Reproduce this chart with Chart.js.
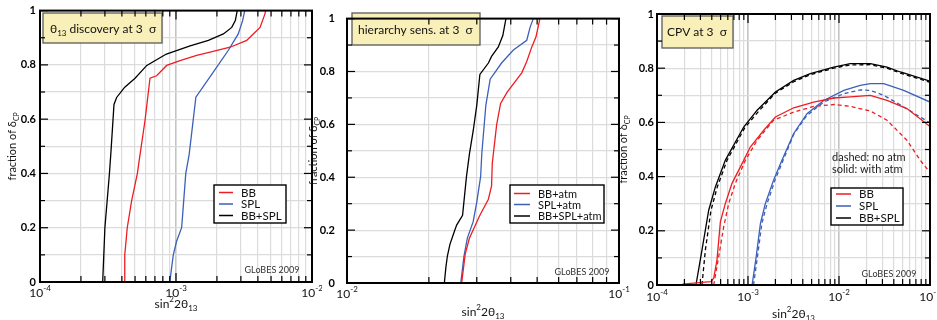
<!DOCTYPE html>
<html>
<head>
<meta charset="utf-8">
<script src="https://cdn.jsdelivr.net/npm/chart.js@4.4.1/dist/chart.umd.min.js"></script>
<style>
  html, body { margin: 0; padding: 0; background: #fff; }
  #wrap { position: relative; width: 937px; height: 320px; overflow: hidden; background: #fff; }
  canvas { position: absolute; top: 0; }
</style>
</head>
<body>
<div id="wrap">
  <canvas id="c1" width="322" height="320" style="left:0px;width:322px;height:320px"></canvas>
  <canvas id="c2" width="325" height="320" style="left:306px;width:325px;height:320px"></canvas>
  <canvas id="c3" width="325" height="320" style="left:612px;width:325px;height:320px"></canvas>
</div>
<script>
// ---------------------------------------------------------------
// Fraction of delta_CP versus sin^2(2 theta13)
// ---------------------------------------------------------------

// y axis: grid every 0.1, labels every 0.2
const fracGrid = [0, 0.1, 0.2, 0.3, 0.4, 0.5, 0.6, 0.7, 0.8, 0.9, 1];
const fracLabels = ['0', '', '0.2', '', '0.4', '', '0.6', '', '0.8', '', '1'];

// x axis decades (exponents of ten) per panel
const discDecades = [-4, -3, -2];
const hierDecades = [-2, -1];
const cpvDecades = [-4, -3, -2, -1];

// Panel 1: theta13 discovery at 3 sigma
const discBB_s22 = [4.15e-4, 4.2e-4, 4.38e-4, 4.72e-4, 5.2e-4, 5.37e-4, 5.92e-4, 6.44e-4, 7.2e-4, 8.54e-4, 1.07e-3, 1.42e-3, 1.78e-3, 2.5e-3, 3.31e-3, 3.7e-3, 4.15e-3, 4.51e-3, 4.56e-3];
const discBB_frac = [0, 0.1, 0.2, 0.3, 0.4, 0.45, 0.596, 0.751, 0.76, 0.798, 0.816, 0.835, 0.847, 0.865, 0.89, 0.914, 0.938, 0.988, 1];
const discSPL_s22 = [9.0e-4, 9.55e-4, 1.01e-3, 1.1e-3, 1.12e-3, 1.18e-3, 1.25e-3, 1.4e-3, 1.88e-3, 2.42e-3, 2.87e-3, 3.09e-3, 3.2e-3];
const discSPL_frac = [0, 0.1, 0.15, 0.2, 0.25, 0.4, 0.47, 0.681, 0.773, 0.853, 0.914, 0.963, 1];
const discBoth_s22 = [2.89e-4, 3.0e-4, 3.24e-4, 3.33e-4, 3.5e-4, 3.66e-4, 4.2e-4, 5.0e-4, 6.1e-4, 8.5e-4, 1.27e-3, 1.73e-3, 2.23e-3, 2.57e-3, 2.73e-3, 2.82e-3];
const discBoth_frac = [0, 0.2, 0.4, 0.485, 0.654, 0.68, 0.718, 0.751, 0.798, 0.84, 0.87, 0.89, 0.914, 0.938, 0.963, 1];

// Panel 2: mass hierarchy sensitivity at 3 sigma (with atmospheric data)
const hierBB_s22 = [2.64e-2, 2.72e-2, 2.82e-2, 3.08e-2, 3.31e-2, 3.4e-2, 3.42e-2, 3.55e-2, 3.67e-2, 3.88e-2, 4.39e-2, 4.58e-2, 4.78e-2, 4.95e-2, 5.12e-2];
const hierBB_frac = [0, 0.109, 0.17, 0.256, 0.317, 0.367, 0.452, 0.599, 0.679, 0.722, 0.795, 0.838, 0.893, 0.93, 1];
const hierSPL_s22 = [2.62e-2, 2.69e-2, 2.77e-2, 2.91e-2, 3.0e-2, 3.1e-2, 3.13e-2, 3.24e-2, 3.36e-2, 3.7e-2, 4.09e-2, 4.58e-2, 4.71e-2, 4.84e-2];
const hierSPL_frac = [0, 0.1, 0.17, 0.232, 0.306, 0.403, 0.489, 0.673, 0.771, 0.832, 0.881, 0.918, 0.967, 1];
const hierBoth_s22 = [2.28e-2, 2.31e-2, 2.34e-2, 2.39e-2, 2.47e-2, 2.53e-2, 2.66e-2, 2.69e-2, 2.75e-2, 2.82e-2, 2.91e-2, 3.0e-2, 3.08e-2, 3.31e-2, 3.4e-2, 3.6e-2, 3.74e-2, 3.84e-2];
const hierBoth_frac = [0, 0.06, 0.103, 0.146, 0.189, 0.219, 0.256, 0.306, 0.403, 0.489, 0.575, 0.673, 0.789, 0.832, 0.857, 0.893, 0.936, 1];

// Panel 3: CP violation at 3 sigma, with (solid) and without (dashed) atmospheric data
const cpvBB_s22 = [1.9e-4, 3.9e-4, 4.2e-4, 4.56e-4, 4.97e-4, 5.63e-4, 6.67e-4, 8.97e-4, 1.06e-3, 1.49e-3, 2.0e-3, 3.18e-3, 5.27e-3, 8.75e-3, 1.33e-2, 2.21e-2, 3.37e-2, 5.58e-2, 1e-1];
const cpvBB_frac = [0.003, 0.012, 0.025, 0.092, 0.233, 0.3, 0.375, 0.46, 0.509, 0.571, 0.62, 0.654, 0.675, 0.69, 0.694, 0.7, 0.681, 0.651, 0.585];
const cpvBBnoAtm_s22 = [4.2e-4, 4.76e-4, 5.41e-4, 6.13e-4, 7.26e-4, 9.35e-4, 1.26e-3, 1.91e-3, 3.18e-3, 5.27e-3, 8.75e-3, 1.33e-2, 2.21e-2, 3.37e-2, 5.58e-2, 7.83e-2, 1e-1];
const cpvBBnoAtm_frac = [0, 0.104, 0.215, 0.3, 0.375, 0.46, 0.534, 0.608, 0.638, 0.659, 0.666, 0.659, 0.642, 0.608, 0.534, 0.46, 0.415];
const cpvSPL_s22 = [1.11e-3, 1.23e-3, 1.37e-3, 1.55e-3, 1.91e-3, 2.36e-3, 3.18e-3, 4.45e-3, 6.79e-3, 1.13e-2, 1.71e-2, 2.21e-2, 3.1e-2, 5.14e-2, 1e-1];
const cpvSPL_frac = [0, 0.104, 0.227, 0.3, 0.387, 0.46, 0.559, 0.632, 0.681, 0.718, 0.737, 0.743, 0.743, 0.718, 0.675];
const cpvSPLnoAtm_s22 = [1.15e-3, 1.27e-3, 1.42e-3, 1.62e-3, 1.98e-3, 2.43e-3, 3.18e-3, 4.45e-3, 6.79e-3, 1.13e-2, 1.71e-2, 2.21e-2, 3.1e-2, 5.14e-2, 1e-1];
const cpvSPLnoAtm_frac = [0, 0.104, 0.227, 0.3, 0.387, 0.46, 0.556, 0.626, 0.675, 0.706, 0.72, 0.718, 0.7, 0.657, 0.598];
const cpvBoth_s22 = [2.68e-4, 3.12e-4, 3.7e-4, 4.38e-4, 5.63e-4, 8.97e-4, 1.26e-3, 2.0e-3, 3.18e-3, 4.84e-3, 8.75e-3, 1.33e-2, 2.21e-2, 3.37e-2, 4.72e-2, 1e-1];
const cpvBoth_frac = [0, 0.129, 0.276, 0.362, 0.46, 0.583, 0.645, 0.712, 0.755, 0.78, 0.804, 0.817, 0.817, 0.804, 0.786, 0.752];
const cpvBothNoAtm_s22 = [3.12e-4, 3.4e-4, 3.92e-4, 4.6e-4, 5.88e-4, 9.2e-4, 1.3e-3, 2.0e-3, 3.18e-3, 4.84e-3, 8.75e-3, 1.33e-2, 2.21e-2, 3.37e-2, 4.72e-2, 1e-1];
const cpvBothNoAtm_frac = [0, 0.129, 0.276, 0.362, 0.46, 0.58, 0.64, 0.708, 0.75, 0.776, 0.8, 0.812, 0.813, 0.8, 0.782, 0.748];

// ---------------------------------------------------------------
const FONT = 'Lato, "Open Sans", "DejaVu Sans", sans-serif';
const RED = '#ee1d23';
const BLUE = '#3c5fba';
const BLACK = '#000000';

function fontOf(p) { return (p.w || 'normal') + ' ' + p.s + 'px ' + FONT; }

function richWidth(ctx, parts) {
  let w = 0;
  for (const p of parts) { ctx.font = fontOf(p); w += ctx.measureText(p.t).width; }
  return w;
}

// draws a run of text pieces (with super/subscripts) on one baseline
function drawRich(ctx, parts, x, y, align, color) {
  const w = richWidth(ctx, parts);
  let cx = align === 'center' ? x - w / 2 : (align === 'right' ? x - w : x);
  ctx.textAlign = 'left';
  ctx.textBaseline = 'alphabetic';
  ctx.fillStyle = color || '#000';
  for (const p of parts) {
    ctx.font = fontOf(p);
    ctx.fillText(p.t, cx, y + (p.dy || 0));
    cx += ctx.measureText(p.t).width;
  }
}

function logGrid(decades) {
  const vals = [];
  for (let i = 0; i < decades.length - 1; i++) {
    const base = Math.pow(10, decades[i]);
    for (let m = 1; m < 10; m++) vals.push(m * base);
  }
  vals.push(Math.pow(10, decades[decades.length - 1]));
  return vals;
}

function isDecade(v) {
  const l = Math.log10(v);
  return Math.abs(l - Math.round(l)) < 1e-6;
}

function line(ctx, x1, y1, x2, y2) {
  ctx.beginPath(); ctx.moveTo(x1, y1); ctx.lineTo(x2, y2); ctx.stroke();
}

// decorations: title box, legend, frame with inward ticks, axis labels
function decorPlugin(p) {
  return {
    id: 'decor_' + p.id,
    afterDraw(chart) {
      const ctx = chart.ctx;
      const a = chart.chartArea;
      const xs = chart.scales.x, ys = chart.scales.y;
      const ox = p.left;
      ctx.save();

      // title box
      const b = p.box;
      ctx.fillStyle = '#f9efb9';
      ctx.fillRect(b.x0 - ox, b.y0, b.x1 - b.x0, b.y1 - b.y0);
      ctx.strokeStyle = '#5a5a5a';
      ctx.lineWidth = 1.3;
      ctx.strokeRect(b.x0 - ox, b.y0, b.x1 - b.x0, b.y1 - b.y0);
      drawRich(ctx, b.parts, b.tx - ox, b.ty, 'left', '#111');

      // legend
      const L = p.legend;
      ctx.fillStyle = '#fff';
      ctx.fillRect(L.x0 - ox, L.y0, L.x1 - L.x0, L.y1 - L.y0);
      ctx.strokeStyle = '#000';
      ctx.lineWidth = 1.4;
      ctx.strokeRect(L.x0 - ox, L.y0, L.x1 - L.x0, L.y1 - L.y0);
      L.rows.forEach((r, i) => {
        const ds = chart.data.datasets[r];
        const yy = L.ys[i];
        ctx.strokeStyle = ds.borderColor;
        ctx.lineWidth = 1.5;
        ctx.setLineDash([]);
        line(ctx, L.lx0 - ox, yy, L.lx1 - ox, yy);
        ctx.font = fontOf({ s: L.s });
        ctx.fillStyle = '#111';
        ctx.textAlign = 'left';
        ctx.textBaseline = 'middle';
        ctx.fillText(ds.label, L.tx - ox, yy + 0.5);
      });

      // notes
      (p.notes || []).forEach(n => {
        ctx.font = fontOf({ s: n.s });
        ctx.fillStyle = n.c || '#222';
        ctx.textAlign = n.align || 'left';
        ctx.textBaseline = 'middle';
        ctx.fillText(n.t, n.x - ox, n.y);
      });

      // inward ticks on all four sides
      ctx.strokeStyle = '#000';
      ctx.lineWidth = 1.2;
      ys.ticks.forEach((t, i) => {
        const py = ys.getPixelForValue(t.value);
        const len = (i % 2 === 0) ? 8 : 5;
        line(ctx, a.left, py, a.left + len, py);
        line(ctx, a.right, py, a.right - len, py);
      });
      xs.ticks.forEach(t => {
        const px = xs.getPixelForValue(t.value);
        const len = isDecade(t.value) ? 9 : 6;
        line(ctx, px, a.bottom, px, a.bottom - len);
        line(ctx, px, a.top, px, a.top + len);
      });

      // frame
      ctx.lineWidth = 2;
      ctx.strokeRect(a.left, a.top, a.right - a.left, a.bottom - a.top);

      // x tick labels 10^n
      p.decades.forEach(e => {
        const px = xs.getPixelForValue(Math.pow(10, e));
        drawRich(ctx, [{ t: '10', s: 12 }, { t: String(e), s: 8, dy: -6 }], px, a.bottom + p.xLabDy, 'center', '#111');
      });

      // x axis title
      drawRich(ctx, [
        { t: 'sin', s: 12 }, { t: '2', s: 8, dy: -6 }, { t: '2θ', s: 12 }, { t: '13', s: 8, dy: 3 }
      ], (a.left + a.right) / 2, p.xTitleY, 'center', '#111');

      // y axis title (rotated)
      ctx.save();
      ctx.translate(p.yTitleX - ox, (a.top + a.bottom) / 2);
      ctx.rotate(-Math.PI / 2);
      drawRich(ctx, [{ t: 'fraction of δ', s: 11 }, { t: 'CP', s: 7, dy: 3 }], 0, 0, 'center', '#111');
      ctx.restore();

      // program tag
      ctx.font = fontOf({ s: 9 });
      ctx.fillStyle = '#333';
      ctx.textAlign = 'center';
      ctx.textBaseline = 'middle';
      ctx.fillText('GLoBES 2009', p.tag.x - ox, p.tag.y);

      ctx.restore();
    }
  };
}

function series(label, xs, ys, color, dashed) {
  return {
    label: label,
    data: xs.map((v, i) => ({ x: v, y: ys[i] })),
    borderColor: color,
    borderWidth: 1.3,
    borderDash: dashed ? [4, 3] : [],
    pointRadius: 0,
    tension: 0,
    fill: false
  };
}

function buildPanel(p) {
  const grid = logGrid(p.decades);
  const last = p.decades[p.decades.length - 1];
  return new Chart(document.getElementById(p.id), {
    type: 'line',
    data: { datasets: p.datasets },
    options: {
      responsive: false,
      animation: false,
      devicePixelRatio: 1,
      layout: { padding: p.pad },
      plugins: { legend: { display: false }, tooltip: { enabled: false } },
      scales: {
        x: {
          type: 'logarithmic',
          min: Math.pow(10, p.decades[0]),
          max: Math.pow(10, last),
          afterBuildTicks: s => { s.ticks = grid.map(v => ({ value: v })); },
          afterFit: s => { s.height = p.xAxisH; },
          ticks: { display: false },
          grid: {
            drawTicks: false,
            color: c => (c.tick && isDecade(c.tick.value)) ? '#c4c4c4' : '#dcdcdc',
            lineWidth: c => (c.tick && isDecade(c.tick.value)) ? 1.6 : 1.2
          },
          border: { display: false }
        },
        y: {
          min: 0,
          max: 1,
          afterBuildTicks: s => { s.ticks = fracGrid.map(v => ({ value: v })); },
          afterFit: s => { s.width = p.yAxisW; },
          ticks: {
            autoSkip: false,
            padding: p.yLabPad,
            color: '#000',
            font: { family: FONT, size: 11, weight: 'bold' },
            callback: (v, i) => fracLabels[i]
          },
          grid: { drawTicks: false, color: '#dcdcdc', lineWidth: 1.2 },
          border: { display: false }
        }
      }
    },
    plugins: [decorPlugin(p)]
  });
}

// Panel 1
buildPanel({
  id: 'c1', left: 0, decades: discDecades,
  pad: { left: 0, right: 10, top: 10, bottom: 0 }, yAxisW: 40, xAxisH: 38, yLabPad: 4,
  xLabDy: 15, xTitleY: 308, yTitleX: 16,
  datasets: [
    series('BB', discBB_s22, discBB_frac, RED),
    series('SPL', discSPL_s22, discSPL_frac, BLUE),
    series('BB+SPL', discBoth_s22, discBoth_frac, BLACK)
  ],
  box: { x0: 43, y0: 13, x1: 162, y1: 43, tx: 50, ty: 33,
    parts: [{ t: 'θ', s: 12 }, { t: '13', s: 8, dy: 3 }, { t: ' discovery at 3  σ', s: 12 }] },
  legend: { x0: 214, y0: 185, x1: 286, y1: 223, lx0: 219, lx1: 233, tx: 241, s: 11.5, ys: [192.5, 204, 215.5], rows: [0, 1, 2] },
  tag: { x: 272, y: 270 }
});

// Panel 2
buildPanel({
  id: 'c2', left: 306, decades: hierDecades,
  pad: { left: 0, right: 12, top: 11, bottom: 0 }, yAxisW: 41, xAxisH: 37, yLabPad: 12,
  xLabDy: 15, xTitleY: 316, yTitleX: 317,
  datasets: [
    series('BB+atm', hierBB_s22, hierBB_frac, RED),
    series('SPL+atm', hierSPL_s22, hierSPL_frac, BLUE),
    series('BB+SPL+atm', hierBoth_s22, hierBoth_frac, BLACK)
  ],
  box: { x0: 352, y0: 13, x1: 480, y1: 45, tx: 358, ty: 34,
    parts: [{ t: 'hierarchy sens. at 3  σ', s: 12 }] },
  legend: { x0: 510, y0: 185, x1: 604, y1: 223, lx0: 514, lx1: 530, tx: 538, s: 11, ys: [193.5, 204.5, 216], rows: [0, 1, 2] },
  tag: { x: 582, y: 272 }
});

// Panel 3
buildPanel({
  id: 'c3', left: 612, decades: cpvDecades,
  pad: { left: 0, right: 7, top: 14, bottom: 0 }, yAxisW: 45, xAxisH: 35, yLabPad: 3,
  xLabDy: 15.5, xTitleY: 318, yTitleX: 627,
  datasets: [
    series('BB', cpvBB_s22, cpvBB_frac, RED),
    series('SPL', cpvSPL_s22, cpvSPL_frac, BLUE),
    series('BB+SPL', cpvBoth_s22, cpvBoth_frac, BLACK),
    series('BB (no atm)', cpvBBnoAtm_s22, cpvBBnoAtm_frac, RED, true),
    series('SPL (no atm)', cpvSPLnoAtm_s22, cpvSPLnoAtm_frac, BLUE, true),
    series('BB+SPL (no atm)', cpvBothNoAtm_s22, cpvBothNoAtm_frac, BLACK, true)
  ],
  box: { x0: 662, y0: 16, x1: 733, y1: 48, tx: 667, ty: 36,
    parts: [{ t: 'CPV at 3  σ', s: 12 }] },
  legend: { x0: 831, y0: 188, x1: 903, y1: 225, lx0: 836, lx1: 851, tx: 859, s: 11.5, ys: [194, 206, 218], rows: [0, 1, 2] },
  notes: [
    { t: 'dashed: no atm', x: 832, y: 157, s: 11 },
    { t: 'solid: with atm', x: 832, y: 169.5, s: 11 }
  ],
  tag: { x: 889, y: 274.5 }
});
</script>
</body>
</html>
